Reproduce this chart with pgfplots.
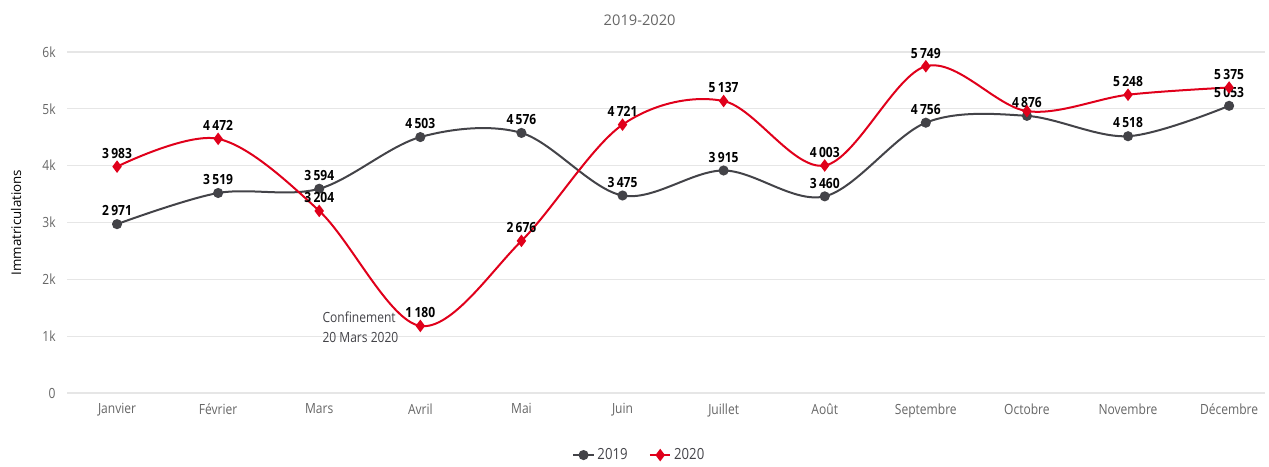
\documentclass[border=0pt]{standalone}
\usepackage{fontspec}
\setmainfont{Open Sans}
\newfontfamily\cond[FakeStretch=0.86]{Open Sans}
\usepackage{pgfplots}
\pgfplotsset{compat=1.18}
\definecolor{gris}{HTML}{434348}
\definecolor{rouge}{HTML}{E0001B}
\definecolor{grille}{HTML}{E6E6E6}
\definecolor{texte}{HTML}{666666}

\begin{document}
\begin{tikzpicture}
\begin{axis}[
  scale only axis,
  width=898.5pt, height=255.75pt,
  xmin=-0.495, xmax=11.355,
  ymin=0, ymax=6000,
  axis line style={draw=none},
  axis x line*=bottom,
  axis y line*=left,
  tick style={draw=none},
  ytick={0,1000,...,6000},
  yticklabels={0,1k,2k,3k,4k,5k,6k},
  xtick={0,...,11},
  xticklabels={Janvier,Février,Mars,Avril,Mai,Juin,Juillet,Août,Septembre,Octobre,Novembre,Décembre},
  ymajorgrids,
  grid style={grille, line width=0.8pt},
  ticklabel style={font=\cond\fontsize{10.5}{12}\selectfont, text=texte},
  yticklabel style={xshift=-5pt},
  xticklabel style={yshift=-4.5pt},
  ylabel={Immatriculations},
  ylabel style={font=\fontsize{10}{12}\selectfont, text=texte!80},
  every axis y label/.style={at={(rel axis cs:-0.0425,0.5)}, rotate=90, anchor=center},
  title={2019-2020},
  title style={font=\fontsize{11}{13}\selectfont, text=texte, at={(rel axis cs:0.478,1.0705)}, anchor=center, yshift=0pt},
  legend style={draw=none, fill=none, at={(rel axis cs:0.478,-0.182)}, anchor=center,
    legend columns=-1, font=\cond\fontsize{11.5}{13}\selectfont, text=gris,
    /tikz/every even column/.append style={column sep=14pt}},
  legend image code/.code={
    \draw[#1, mark repeat=2, mark phase=2] plot coordinates {(0cm,0cm) (0.27cm,0cm) (0.54cm,0cm)};},
  point meta=explicit symbolic,
  nodes near coords,
  every node near coord/.append style={font=\cond\bfseries\fontsize{10.5}{12}\selectfont, text=black, yshift=2pt},
  clip=false,
]
\addplot[gris, line width=1.5pt, smooth, tension=0.55, mark=*, mark size=3pt,
  mark options={solid, fill=gris, draw=gris}]
coordinates {
(0,2971) [2\,971]
(1,3519) [3\,519]
(2,3594) [3\,594]
(3,4503) [4\,503]
(4,4576) [4\,576]
(5,3475) [3\,475]
(6,3915) [3\,915]
(7,3460) [3\,460]
(8,4756) [4\,756]
(9,4876) [4\,876]
(10,4518) [4\,518]
(11,5053) [5\,053]
};
\addlegendentry{2019}
\addplot[rouge, line width=1.5pt, smooth, tension=0.55, mark=diamond*, mark size=3.5pt,
  mark options={solid, fill=rouge, draw=rouge}]
coordinates {
(0,3983) [3\,983]
(1,4472) [4\,472]
(2,3204) [3\,204]
(3,1180) [1\,180]
(4,2676) [2\,676]
(5,4721) [4\,721]
(6,5137) [5\,137]
(7,4003) [4\,003]
(8,5749) [5\,749]
(9,4960) [{}]
(10,5248) [5\,248]
(11,5375) [5\,375]
};
\addlegendentry{2020}
\node[anchor=north west, align=left, font=\cond\fontsize{10.5}{15}\selectfont, text=gris, inner sep=0pt]
  at (axis cs:2.03,1440) {Confinement\\20 Mars 2020};
\path[use as bounding box] (rel axis cs:-0.05593,-0.20821) rectangle (rel axis cs:1.00334,1.15249);
\end{axis}
\end{tikzpicture}
\end{document}
